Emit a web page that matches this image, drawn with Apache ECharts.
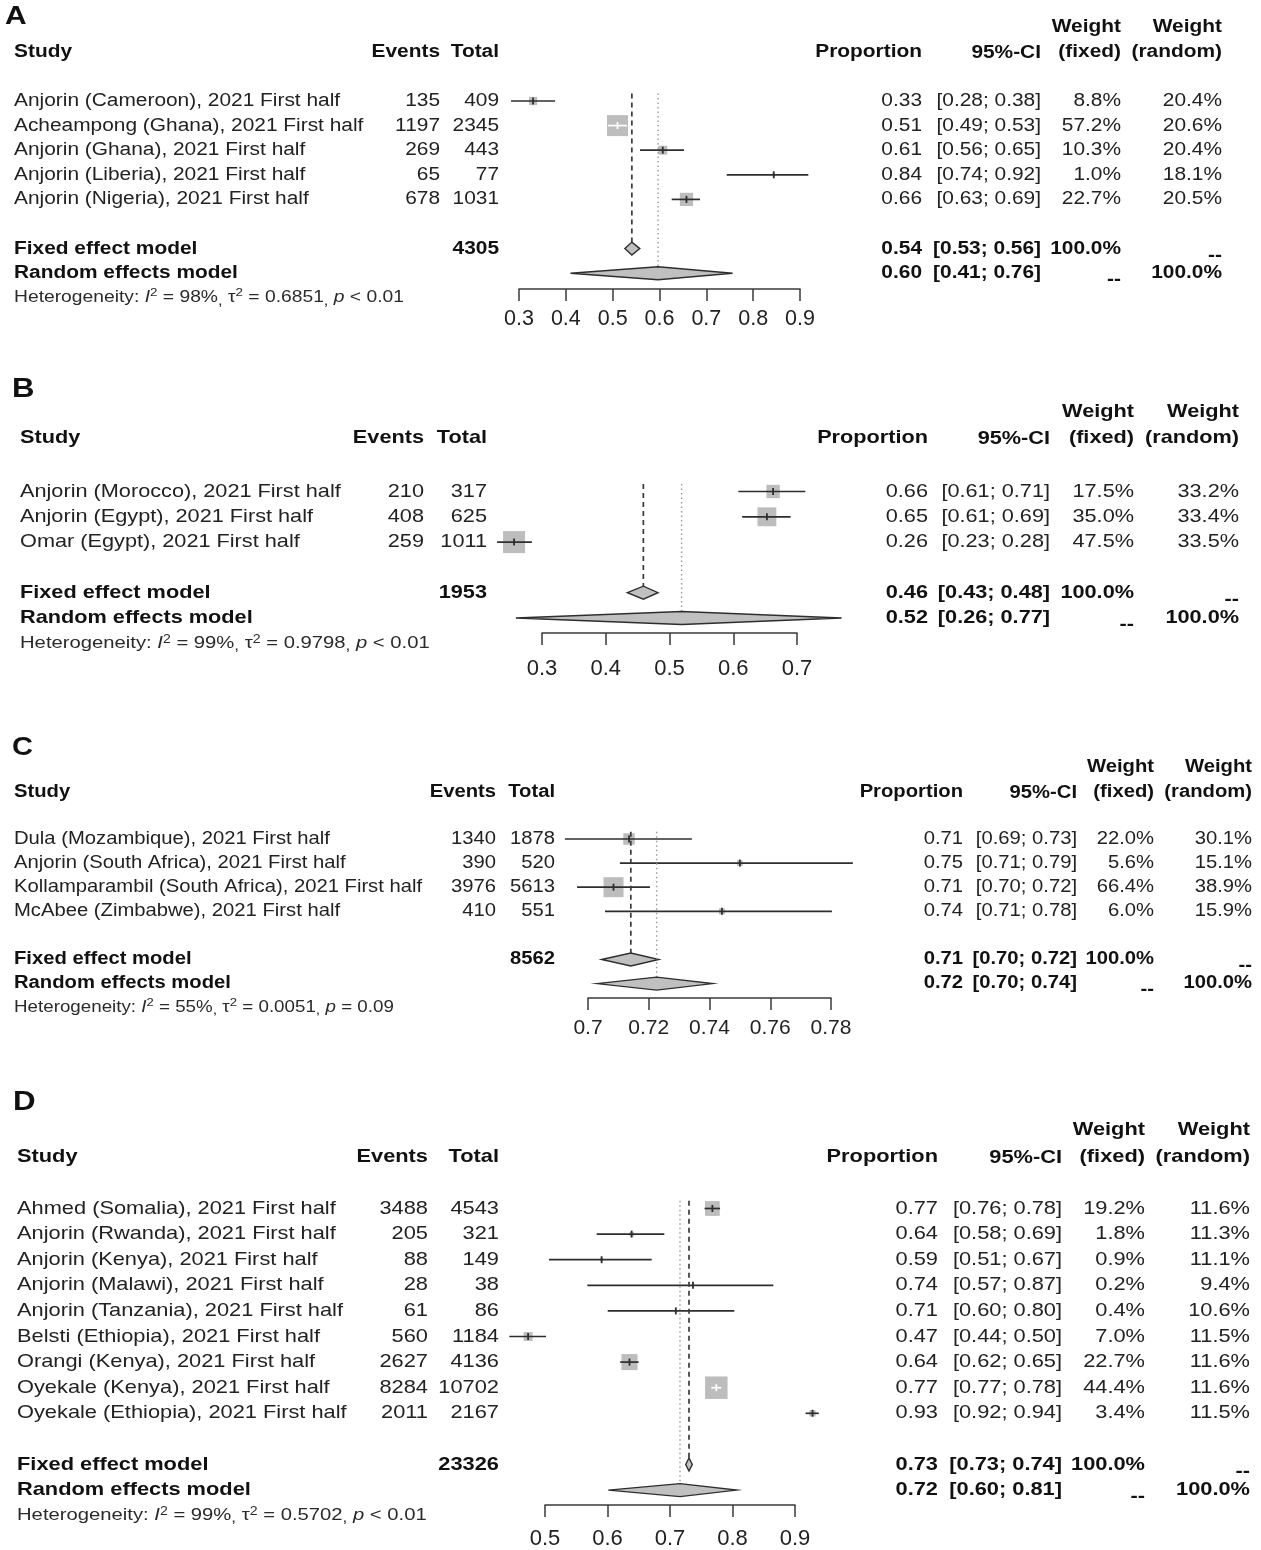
<!DOCTYPE html>
<html><head><meta charset="utf-8">
<script src="https://cdn.jsdelivr.net/npm/echarts@6/dist/echarts.min.js"></script>
<style>html,body{margin:0;padding:0;background:#fff}#chart{width:1261px;height:1550px}</style>
</head><body><div id="chart"></div>
<script>
// ---------------- DATA ----------------
// Panel A
const studiesA = ["Anjorin (Cameroon), 2021 First half","Acheampong (Ghana), 2021 First half","Anjorin (Ghana), 2021 First half","Anjorin (Liberia), 2021 First half","Anjorin (Nigeria), 2021 First half"];
const eventsA = [135, 1197, 269, 65, 678];
const totalsA = [409, 2345, 443, 77, 1031];
const propA = [0.330, 0.5104, 0.607, 0.844, 0.6576];
const lowerA = [0.283, 0.4902, 0.5584, 0.7435, 0.626];
const upperA = [0.377, 0.5306, 0.6523, 0.9178, 0.6865];
const wFixedA = [8.8, 57.2, 10.3, 1.0, 22.7];
const wRandomA = [20.4, 20.6, 20.4, 18.1, 20.5];
const totalSumA = 4305;
const fixedA = [0.541, 0.526, 0.558];
const randomA = [0.597, 0.41, 0.756];
const hetA = ["98%", "0.6851", "< 0.01"];
const ticksA = [0.3, 0.4, 0.5, 0.6, 0.7, 0.8, 0.9];

// Panel B
const studiesB = ["Anjorin (Morocco), 2021 First half","Anjorin (Egypt), 2021 First half","Omar (Egypt), 2021 First half"];
const eventsB = [210, 408, 259];
const totalsB = [317, 625, 1011];
const propB = [0.6625, 0.6528, 0.2562];
const lowerB = [0.608, 0.614, 0.2296];
const upperB = [0.713, 0.690, 0.2841];
const wFixedB = [17.5, 35.0, 47.5];
const wRandomB = [33.2, 33.4, 33.5];
const totalSumB = 1953;
const fixedB = [0.459, 0.434, 0.482];
const randomB = [0.519, 0.259, 0.770];
const hetB = ["99%", "0.9798", "< 0.01"];
const ticksB = [0.3, 0.4, 0.5, 0.6, 0.7];

// Panel C
const studiesC = ["Dula (Mozambique), 2021 First half","Anjorin (South Africa), 2021 First half","Kollamparambil (South Africa), 2021 First half","McAbee (Zimbabwe), 2021 First half"];
const eventsC = [1340, 390, 3976, 410];
const totalsC = [1878, 520, 5613, 551];
const propC = [0.7135, 0.75, 0.7084, 0.7441];
const lowerC = [0.6924, 0.7105, 0.6964, 0.7056];
const upperC = [0.7342, 0.7872, 0.7204, 0.7803];
const wFixedC = [22.0, 5.6, 66.4, 6.0];
const wRandomC = [30.1, 15.1, 38.9, 15.9];
const totalSumC = 8562;
const fixedC = [0.7141, 0.7045, 0.7233];
const randomC = [0.7226, 0.7029, 0.741];
const hetC = ["55%", "0.0051", "= 0.09"];
const ticksC = [0.70, 0.72, 0.74, 0.76, 0.78];

// Panel D
const studiesD = ["Ahmed (Somalia), 2021 First half","Anjorin (Rwanda), 2021 First half","Anjorin (Kenya), 2021 First half","Anjorin (Malawi), 2021 First half","Anjorin (Tanzania), 2021 First half","Belsti (Ethiopia), 2021 First half","Orangi (Kenya), 2021 First half","Oyekale (Kenya), 2021 First half","Oyekale (Ethiopia), 2021 First half"];
const eventsD = [3488, 205, 88, 28, 61, 560, 2627, 8284, 2011];
const totalsD = [4543, 321, 149, 38, 86, 1184, 4136, 10702, 2167];
const propD = [0.7678, 0.6386, 0.5906, 0.7368, 0.7093, 0.473, 0.6352, 0.7741, 0.928];
const lowerD = [0.7553, 0.5827, 0.5064, 0.5677, 0.6003, 0.4429, 0.6203, 0.766, 0.917];
const upperD = [0.7801, 0.6909, 0.6707, 0.8653, 0.8029, 0.5016, 0.6497, 0.782, 0.938];
const wFixedD = [19.2, 1.8, 0.9, 0.2, 0.4, 7.0, 22.7, 44.4, 3.4];
const wRandomD = [11.6, 11.3, 11.1, 9.4, 10.6, 11.5, 11.6, 11.6, 11.5];
const totalSumD = 23326;
const fixedD = [0.7304, 0.7251, 0.7357];
const randomD = [0.716, 0.6013, 0.8067];
const hetD = ["99%", "0.5702", "< 0.01"];
const ticksD = [0.5, 0.6, 0.7, 0.8, 0.9];

// ---------------- LAYOUT ----------------
const FONT = "'Liberation Sans', Arial, Helvetica, sans-serif";
const panels = [
  { letter:'A', letterX:5, letterY:17, textX:14, headY:52, weightY:27, fs:1.0, hetFs:0.99, tickFs:21.5,
    cols:{ev:440, tot:499, prop:922, ci:1041, wf:1121, wr:1222},
    row0:76.4, dy:24.6, axisY:289, xLeft:519, xRight:800, interval:0.1, labelMargin:19, boxMax:21,
    studies:studiesA, events:eventsA, totals:totalsA, prop:propA, lower:lowerA, upper:upperA, wF:wFixedA, wR:wRandomA,
    totalSum:totalSumA, fixed:fixedA, random:randomA, het:hetA, ticks:ticksA },
  { letter:'B', letterX:12, letterY:390, textX:20, headY:438, weightY:412, fs:1.04, hetFs:1.04, tickFs:22,
    cols:{ev:424, tot:487, prop:928, ci:1050, wf:1134, wr:1239},
    row0:466.2, dy:25.3, axisY:633, xLeft:542, xRight:797, interval:0.1, labelMargin:25, boxMax:22,
    studies:studiesB, events:eventsB, totals:totalsB, prop:propB, lower:lowerB, upper:upperB, wF:wFixedB, wR:wRandomB,
    totalSum:totalSumB, fixed:fixedB, random:randomB, het:hetB, ticks:ticksB },
  { letter:'C', letterX:12, letterY:748, textX:14, headY:792, weightY:767, fs:0.97, hetFs:0.965, tickFs:21,
    cols:{ev:496, tot:555, prop:963, ci:1077, wf:1154, wr:1252},
    row0:814.9, dy:24.1, axisY:998, xLeft:588, xRight:831, interval:0.02, labelMargin:20, boxMax:20,
    studies:studiesC, events:eventsC, totals:totalsC, prop:propC, lower:lowerC, upper:upperC, wF:wFixedC, wR:wRandomC,
    totalSum:totalSumC, fixed:fixedC, random:randomC, het:hetC, ticks:ticksC },
  { letter:'D', letterX:13, letterY:1103, textX:17, headY:1157, weightY:1130, fs:1.045, hetFs:1.04, tickFs:22,
    cols:{ev:428, tot:499, prop:938, ci:1062, wf:1145, wr:1250},
    row0:1182.9, dy:25.6, axisY:1505, xLeft:545, xRight:795, interval:0.1, labelMargin:23, boxMax:22.5,
    studies:studiesD, events:eventsD, totals:totalsD, prop:propD, lower:lowerD, upper:upperD, wF:wFixedD, wR:wRandomD,
    totalSum:totalSumD, fixed:fixedD, random:randomD, het:hetD, ticks:ticksD }
];

function T(x, y, text, o) {
  o = o || {};
  const size = o.size || 18;
  const al = o.align || 'left';
  return {
    type:'text', x:x, y:y, scaleX:(o.sx || 1.16), silent:true, z:10,
    style:{
      text:String(text), x:0, y:0,
      fill:o.color || (o.bold ? '#111' : '#222'),
      font:(o.bold ? 'bold ' : '') + size + 'px ' + FONT,
      align:al, textAlign:al, verticalAlign:'middle', textVerticalAlign:'middle'
    }
  };
}
function hetText(x, y, h, f) {
  const base = {fontSize:16.5 * f, fontFamily:FONT, fill:'#2a2a2a', lineHeight:20};
  return {
    type:'text', x:x, y:y, scaleX:1.18, silent:true, z:10,
    style:{
      text:'{n|Heterogeneity: }{i|I}{s|2}{n| = ' + h[0] + '}{c|,}{n| τ}{s|2}{n| = ' + h[1] + '}{c|,}{n| }{i|p}{n| ' + h[2] + '}',
      x:0, y:0, align:'left', textAlign:'left', verticalAlign:'middle', textVerticalAlign:'middle',
      font:(16.5 * f) + 'px ' + FONT, fill:'#2a2a2a',
      rich:{
        n:base,
        i:Object.assign({}, base, {fontStyle:'italic'}),
        s:{fontSize:11.5 * f, fontFamily:FONT, fill:'#2a2a2a', lineHeight:11, verticalAlign:'top'},
        c:{fontSize:14 * f, fontFamily:FONT, fill:'#2a2a2a', lineHeight:12, verticalAlign:'bottom'}
      }
    }
  };
}
const ci = (lo, hi) => '[' + lo.toFixed(2) + '; ' + hi.toFixed(2) + ']';
const pct = v => v.toFixed(1) + '%';

const graphics = [];
const grids = [], xAxes = [], yAxes = [], series = [];

panels.forEach((p, gi) => {
  const n = p.studies.length;
  const rowY = k => p.row0 + k * p.dy;
  const c = p.cols;
  const S = 18 * p.fs;
  graphics.push(T(p.letterX, p.letterY, p.letter, {bold:true, size:26 * p.fs, sx:1.15, color:'#111'}));
  graphics.push(T(p.textX, p.headY, 'Study', {bold:true, size:S}));
  graphics.push(T(c.ev, p.headY, 'Events', {bold:true, align:'right', size:S}));
  graphics.push(T(c.tot, p.headY, 'Total', {bold:true, align:'right', size:S}));
  graphics.push(T(c.prop, p.headY, 'Proportion', {bold:true, align:'right', size:S}));
  graphics.push(T(c.ci, p.headY + 1, '95%-CI', {bold:true, align:'right', size:S}));
  graphics.push(T(c.wf, p.weightY, 'Weight', {bold:true, align:'right', size:S}));
  graphics.push(T(c.wf, p.headY, '(fixed)', {bold:true, align:'right', size:S}));
  graphics.push(T(c.wr, p.weightY, 'Weight', {bold:true, align:'right', size:S}));
  graphics.push(T(c.wr, p.headY, '(random)', {bold:true, align:'right', size:S}));
  p.studies.forEach((s, i) => {
    const y = rowY(i + 1);
    graphics.push(T(p.textX, y, s, {size:S}));
    graphics.push(T(c.ev, y, p.events[i], {align:'right', size:S}));
    graphics.push(T(c.tot, y, p.totals[i], {align:'right', size:S}));
    graphics.push(T(c.prop, y, p.prop[i].toFixed(2), {align:'right', size:S}));
    graphics.push(T(c.ci, y, ci(p.lower[i], p.upper[i]), {align:'right', size:S}));
    graphics.push(T(c.wf, y, pct(p.wF[i]), {align:'right', size:S}));
    graphics.push(T(c.wr, y, pct(p.wR[i]), {align:'right', size:S}));
  });
  const yf = rowY(n + 2), yr = rowY(n + 3);
  graphics.push(T(p.textX, yf, 'Fixed effect model', {bold:true, size:S}));
  graphics.push(T(c.tot, yf, p.totalSum, {bold:true, align:'right', size:S}));
  graphics.push(T(c.prop, yf, p.fixed[0].toFixed(2), {bold:true, align:'right', size:S}));
  graphics.push(T(c.ci, yf, ci(p.fixed[1], p.fixed[2]), {bold:true, align:'right', size:S}));
  graphics.push(T(c.wf, yf, '100.0%', {bold:true, align:'right', size:S}));
  graphics.push(T(c.wr, yf + 7, '--', {bold:true, align:'right', size:S}));
  graphics.push(T(p.textX, yr, 'Random effects model', {bold:true, size:S}));
  graphics.push(T(c.prop, yr, p.random[0].toFixed(2), {bold:true, align:'right', size:S}));
  graphics.push(T(c.ci, yr, ci(p.random[1], p.random[2]), {bold:true, align:'right', size:S}));
  graphics.push(T(c.wf, yr + 7, '--', {bold:true, align:'right', size:S}));
  graphics.push(T(c.wr, yr, '100.0%', {bold:true, align:'right', size:S}));
  graphics.push(hetText(p.textX, rowY(n + 4), p.het, p.hetFs));

  grids.push({left:p.xLeft, top:p.row0, width:p.xRight - p.xLeft, height:p.axisY - p.row0});
  xAxes.push({
    type:'value', gridIndex:gi, min:p.ticks[0], max:p.ticks[p.ticks.length - 1], interval:p.interval,
    axisLine:{show:true, onZero:false, lineStyle:{color:'#3a3a3a', width:1.5}},
    axisTick:{show:true, length:12, lineStyle:{color:'#3a3a3a', width:1.5}},
    splitLine:{show:false},
    axisLabel:{fontSize:p.tickFs, color:'#222', fontFamily:FONT, margin:p.labelMargin, showMinLabel:true, showMaxLabel:true}
  });
  yAxes.push({type:'value', gridIndex:gi, min:0, max:(p.axisY - p.row0) / p.dy, inverse:true, show:false});

  const wmax = Math.max.apply(null, p.wF);
  series.push({
    type:'custom', xAxisIndex:gi, yAxisIndex:gi, clip:false, silent:true, z:2,
    encode:{x:[0, 1, 2], y:3},
    data:p.prop.map((v, i) => [v, p.lower[i], p.upper[i], i + 1, p.wF[i]]),
    renderItem:function (params, api) {
      const est = api.value(0), lo = api.value(1), hi = api.value(2), row = api.value(3), w = api.value(4);
      const cc = api.coord([est, row]), a = api.coord([lo, row]), b = api.coord([hi, row]);
      const side = Math.max(p.boxMax * Math.sqrt(w / wmax), 2);
      const inside = a[0] >= cc[0] - side / 2 && b[0] <= cc[0] + side / 2;
      const lc = inside ? '#ffffff' : '#2e2e2e';
      return {type:'group', children:[
        {type:'rect', shape:{x:cc[0] - side / 2, y:cc[1] - side / 2, width:side, height:side}, style:{fill:'#bdbdbd'}},
        {type:'line', shape:{x1:a[0], y1:cc[1], x2:b[0], y2:cc[1]}, style:{stroke:lc, lineWidth:1.7}},
        {type:'line', shape:{x1:cc[0], y1:cc[1] - 3.5, x2:cc[0], y2:cc[1] + 3.5}, style:{stroke:lc, lineWidth:1.8}}
      ]};
    }
  });
  series.push({
    type:'custom', xAxisIndex:gi, yAxisIndex:gi, clip:false, silent:true, z:3,
    encode:{x:[0, 1, 2], y:3},
    data:[[p.fixed[0], p.fixed[1], p.fixed[2], n + 2, 0], [p.random[0], p.random[1], p.random[2], n + 3, 1]],
    renderItem:function (params, api) {
      const est = api.value(0), lo = api.value(1), hi = api.value(2), row = api.value(3), kind = api.value(4);
      const cc = api.coord([est, row]), a = api.coord([lo, row]), b = api.coord([hi, row]);
      const top = api.coord([est, 0.7]);
      const h = 6.5;
      return {type:'group', children:[
        {type:'line', shape:{x1:cc[0], y1:top[1], x2:cc[0], y2:cc[1] - h},
          style:kind ? {stroke:'#999', lineWidth:1.4, lineDash:[1.5, 3]} : {stroke:'#3a3a3a', lineWidth:1.7, lineDash:[5, 4]}},
        {type:'polygon', shape:{points:[[a[0], cc[1]], [cc[0], cc[1] - h], [b[0], cc[1]], [cc[0], cc[1] + h]]},
          style:{fill:'#c0c0c0', stroke:'#2e2e2e', lineWidth:1.4}}
      ]};
    }
  });
});

const chart = echarts.init(document.getElementById('chart'), null, {renderer:'canvas'});
chart.setOption({
  animation:false,
  backgroundColor:'#ffffff',
  grid:grids, xAxis:xAxes, yAxis:yAxes, series:series,
  graphic:{elements:graphics}
});
</script>
</body></html>
